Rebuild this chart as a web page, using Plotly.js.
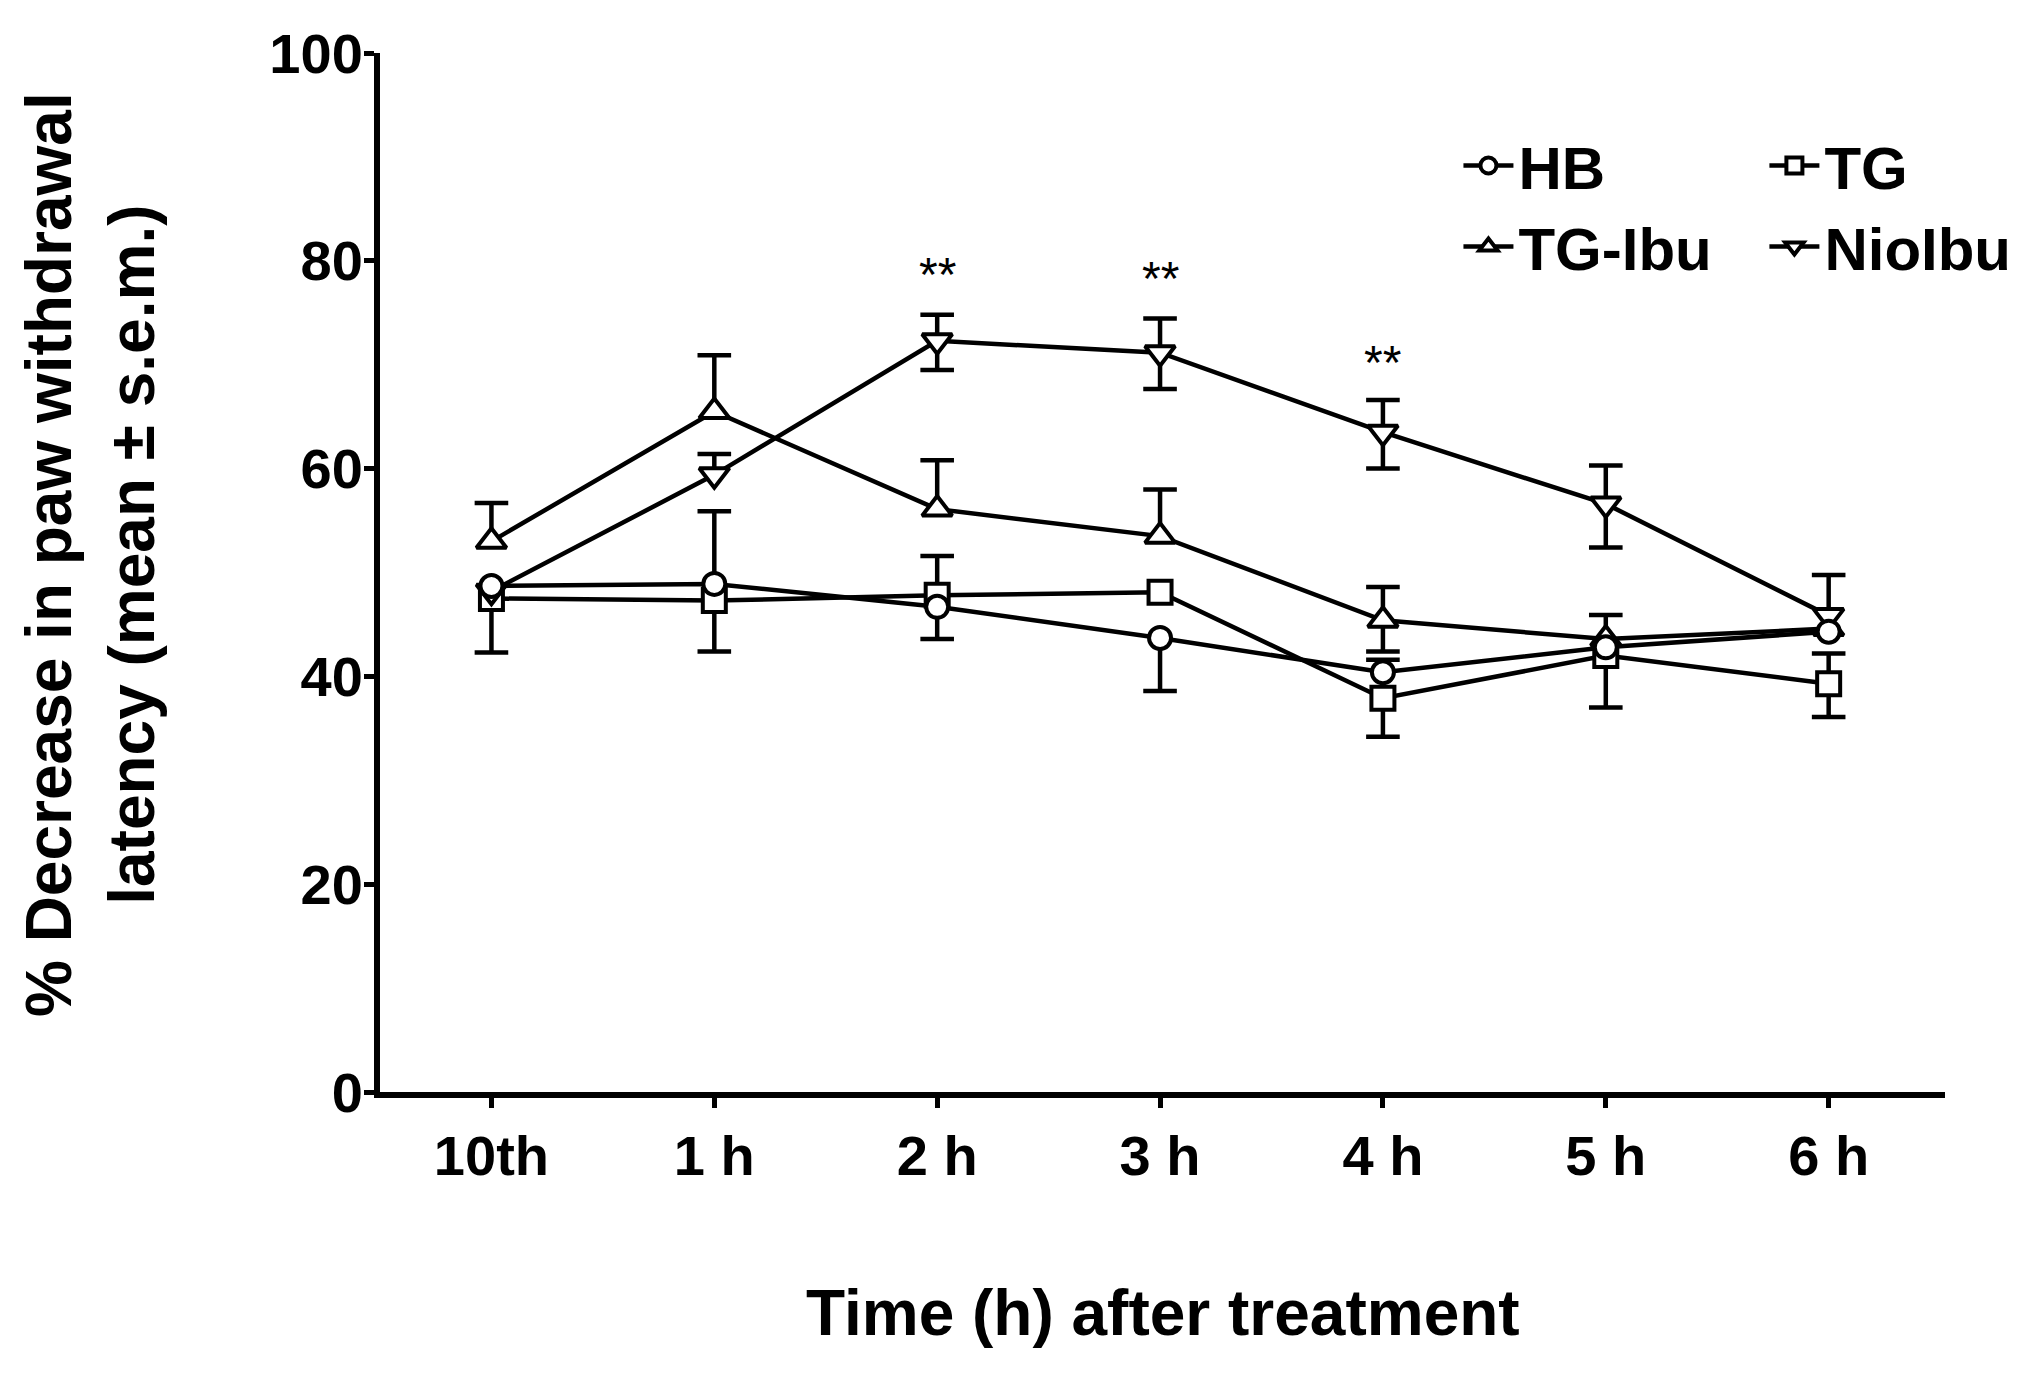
<!DOCTYPE html>
<html>
<head>
<meta charset="utf-8">
<script src="https://cdn.plot.ly/plotly-3.0.1.min.js"></script>
<style>html,body{margin:0;padding:0;background:#fff;}#chart{width:2043px;height:1374px;}</style>
</head>
<body>
<div id="chart"></div>
<script>
// ---- data ----
var categories = ['10th', '1 h', '2 h', '3 h', '4 h', '5 h', '6 h'];

var HB        = [48.7, 48.9, 46.7, 43.7, 40.4, 42.8, 44.3];
var HB_plus   = [0, 7.0, 0, 0, 1.2, 0, 0];
var HB_minus  = [0, 0, 3.1, 5.1, 0, 0, 0];

var TG        = [47.5, 47.3, 47.8, 48.1, 37.9, 42.0, 39.3];
var TG_plus   = [0, 0, 3.8, 0, 0, 0, 2.9];
var TG_minus  = [5.2, 4.9, 0, 0, 3.7, 5.0, 3.2];

var TGIbu       = [53.0, 65.5, 56.1, 53.5, 45.4, 43.6, 44.6];
var TGIbu_plus  = [3.7, 5.4, 4.7, 4.5, 3.2, 2.3, 0];
var TGIbu_minus = [0, 0, 0, 0, 3.0, 0, 0];

var NioIbu       = [48.2, 59.4, 72.3, 71.15, 63.5, 56.6, 45.85];
var NioIbu_plus  = [0, 2.0, 2.5, 3.3, 3.1, 3.7, 3.9];
var NioIbu_minus = [0, 0, 2.8, 3.5, 3.5, 4.2, 0];

var starLabels = ['**', '**', '**'];
var starX = ['2 h', '3 h', '4 h'];
var starY = [78.7, 78.3, 70.2];

var yTicks = [0, 20, 40, 60, 80, 100];

// ---- styling ----
var FONT = 'Liberation Sans, Arial, Helvetica, sans-serif';
var LW = 4.5;

function mainTrace(name, y, plus, minus, symbol, size, legend, rank) {
  return {
    type: 'scatter', mode: 'lines+markers', name: name,
    x: categories, y: y,
    line: {color: 'black', width: LW},
    marker: {symbol: symbol, size: size, color: 'white', line: {color: 'black', width: 4}},
    error_y: {type: 'data', symmetric: false, array: plus, arrayminus: minus,
              width: 0, thickness: LW, color: 'black'},
    legend: legend, legendrank: rank,
    hoverinfo: 'x+y+name'
  };
}
function capTrace(y, plus, minus) {
  var xs = [], ys = [];
  for (var i = 0; i < categories.length; i++) {
    if (plus[i] > 0) { xs.push(categories[i]); ys.push(y[i] + plus[i]); }
    if (minus[i] > 0) { xs.push(categories[i]); ys.push(y[i] - minus[i]); }
  }
  return {
    type: 'scatter', mode: 'markers', x: xs, y: ys, showlegend: false, hoverinfo: 'skip',
    marker: {symbol: 'line-ew', size: 24, color: 'black', line: {color: 'black', width: LW}}
  };
}

var traces = [
  mainTrace('TG', TG, TG_plus, TG_minus, 'square', 23, 'legend2', 1),
  capTrace(TG, TG_plus, TG_minus),
  mainTrace('TG-Ibu', TGIbu, TGIbu_plus, TGIbu_minus, 'triangle-up', 26, 'legend', 2),
  capTrace(TGIbu, TGIbu_plus, TGIbu_minus),
  mainTrace('NioIbu', NioIbu, NioIbu_plus, NioIbu_minus, 'triangle-down', 26, 'legend2', 2),
  capTrace(NioIbu, NioIbu_plus, NioIbu_minus),
  mainTrace('HB', HB, HB_plus, HB_minus, 'circle', 22, 'legend', 1),
  capTrace(HB, HB_plus, HB_minus)
];

var annotations = [
  {xref: 'paper', yref: 'paper', x: -0.1853, y: 0.5168, xanchor: 'center', yanchor: 'middle',
   textangle: -90, showarrow: false,
   text: '% Decrease in paw withdrawal<br>latency (mean ± s.e.m.)',
   font: {family: FONT, size: 64, weight: 'bold', color: 'black'}},
  {xref: 'paper', yref: 'paper', x: 0.5, y: -0.2127, xanchor: 'center', yanchor: 'middle',
   showarrow: false, text: 'Time (h) after treatment',
   font: {family: FONT, size: 64, weight: 'bold', color: 'black'}}
];
for (var k = 0; k < starLabels.length; k++) {
  annotations.push({xref: 'x', yref: 'y', x: starX[k], y: starY[k], xanchor: 'center', yanchor: 'middle',
    showarrow: false, text: starLabels[k], font: {family: FONT, size: 48, color: 'black'}});
}

var legendFont = {family: FONT, size: 60, weight: 'bold', color: 'black'};
var layout = {
  width: 2043, height: 1374,
  margin: {l: 380, r: 98, t: 53, b: 282, pad: 0},
  paper_bgcolor: 'white', plot_bgcolor: 'white',
  showlegend: true,
  xaxis: {
    type: 'category', range: [-0.5, 6.522], showgrid: false, zeroline: false,
    showline: true, linecolor: 'black', linewidth: 6,
    ticks: 'outside', ticklen: 10, tickwidth: 5, tickcolor: 'black',
    ticklabelstandoff: 0,
    tickfont: {family: FONT, size: 56, weight: 'bold', color: 'black'}
  },
  yaxis: {
    range: [0, 100], tickvals: yTicks, showgrid: false, zeroline: false,
    showline: true, linecolor: 'black', linewidth: 6,
    ticks: 'outside', ticklen: 10, tickwidth: 5, tickcolor: 'black',
    ticklabelstandoff: -10,
    tickfont: {family: FONT, size: 56, weight: 'bold', color: 'black'}
  },
  legend: {x: 0.6891, y: 0.9355, xanchor: 'left', yanchor: 'top', bgcolor: 'rgba(0,0,0,0)',
           font: legendFont, traceorder: 'normal', itemwidth: 50, tracegroupgap: 0},
  legend2: {x: 0.8846, y: 0.9355, xanchor: 'left', yanchor: 'top', bgcolor: 'rgba(0,0,0,0)',
            font: legendFont, traceorder: 'normal', itemwidth: 50, tracegroupgap: 0},
  annotations: annotations
};

Plotly.newPlot('chart', traces, layout, {displayModeBar: false, staticPlot: true});
</script>
</body>
</html>
